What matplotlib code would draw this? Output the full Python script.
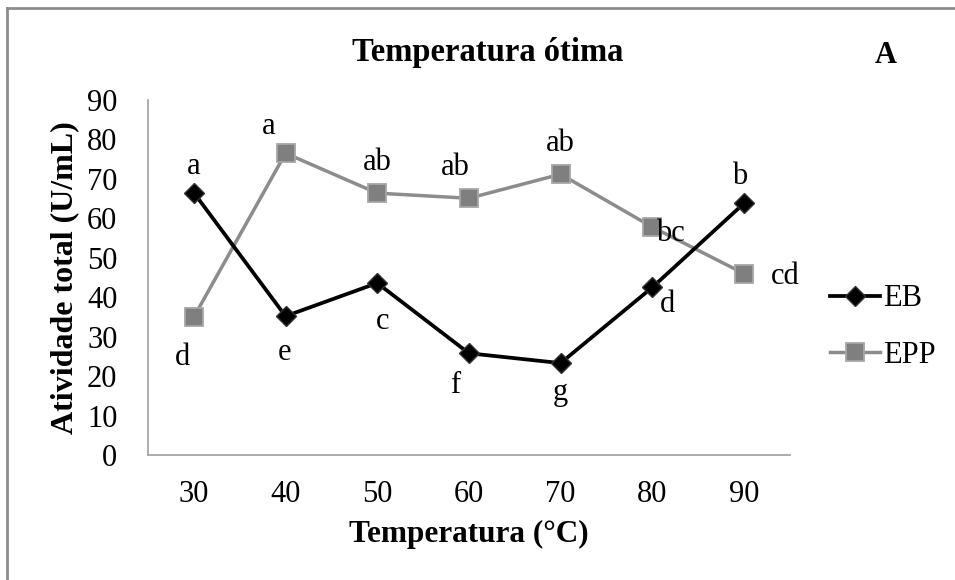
import matplotlib.pyplot as plt
from matplotlib.lines import Line2D

plt.rcParams['font.family'] = ['Liberation Serif', 'DejaVu Serif']

temperaturas = ['30', '40', '50', '60', '70', '80', '90']
eb = [66.5, 35.2, 43.6, 25.8, 23.3, 42.5, 63.8]
epp = [35.0, 76.5, 66.4, 65.1, 71.2, 57.8, 46.0]
letras_eb = ['a', 'e', 'c', 'f', 'g', 'd', 'b']
letras_epp = ['d', 'a', 'ab', 'ab', 'ab', 'bc', 'cd']

# deslocamentos (pontos) das letras de cada ponto
off_eb = [(0, 19), (-1, -26), (4, -28), (-10, -23), (0, -21), (11, -12), (-3, 19)]
off_epp = [(-8, -29), (-12, 19), (0, 22), (-10, 22), (0, 22), (13, -5), (30, -2)]

fig = plt.figure(figsize=(9.55, 5.8), dpi=100)
ax = fig.add_axes([0.155, 0.2155, 0.672, 0.612])

x = range(len(temperaturas))
ax.plot(x, eb, color='black', lw=2.7, marker='D', ms=10,
        mfc='black', mec='#333333', label='EB', zorder=3)
ax.plot(x, epp, color='#8c8c8c', lw=2.5, marker='s', ms=13,
        mfc='#7f7f7f', mec='#a6a6a6', mew=1.3, label='EPP', zorder=2)

for i in x:
    ax.annotate(letras_eb[i], (i, eb[i]), xytext=off_eb[i],
                textcoords='offset points', ha='center', va='center', fontsize=22)
    ax.annotate(letras_epp[i], (i, epp[i]), xytext=off_epp[i],
                textcoords='offset points', ha='center', va='center', fontsize=22)

ax.set_xlim(-0.5, len(temperaturas) - 0.5)
ax.set_ylim(0, 90)
ax.set_yticks(range(0, 91, 10))
ax.set_xticks(list(x))
ax.set_xticklabels(temperaturas)
ax.tick_params(length=0, labelsize=22)
ax.tick_params(axis='x', pad=18)
ax.tick_params(axis='y', pad=22)
for s in ['top', 'right']:
    ax.spines[s].set_visible(False)
for s in ['left', 'bottom']:
    ax.spines[s].set_color('#a6a6a6')
    ax.spines[s].set_linewidth(1.3)

ax.set_xlabel('Temperatura (°C)', fontsize=22.5, fontweight='bold', labelpad=8)
ax.set_ylabel('Atividade total (U/mL)', fontsize=23, fontweight='bold', labelpad=6)

fig.text(0.511, 0.91, 'Temperatura ótima', ha='center', va='center',
         fontsize=23.5, fontweight='bold')
fig.text(0.927, 0.905, 'A', ha='center', va='center', fontsize=22, fontweight='bold')

fig.legend(loc='center left', bbox_to_anchor=(0.869, 0.436), frameon=False,
           fontsize=22, handlelength=1.64, handletextpad=0.1, labelspacing=0.9,
           borderpad=0, borderaxespad=0)

# moldura externa
fig.add_artist(Line2D([0.007, 1.0], [0.986, 0.986], color='#8c8c8c', lw=2,
                      transform=fig.transFigure))
fig.add_artist(Line2D([0.007, 0.007], [0.0, 0.986], color='#8c8c8c', lw=2,
                      transform=fig.transFigure))

fig.savefig('out.png', dpi=100)
